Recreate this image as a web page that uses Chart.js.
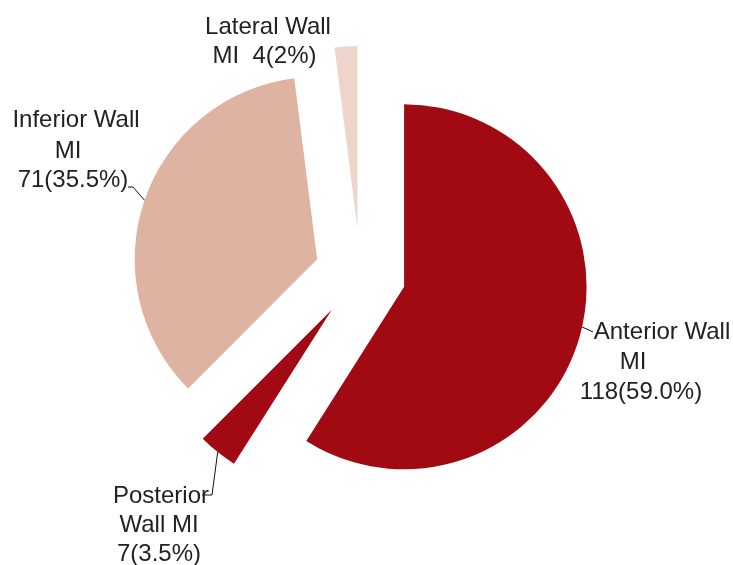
<!DOCTYPE html>
<html lang="en">
<head>
    <meta charset="UTF-8">
    <title>MI location</title>
    <script src="https://cdn.jsdelivr.net/npm/chart.js"></script>
    <style>
        html, body { margin: 0; padding: 0; background: #fff; }
        #wrap { width: 733px; height: 565px; position: relative; }
    </style>
</head>
<body>
    <div id="wrap"><canvas id="chart"></canvas></div>

    <script>
        // data
        const categories = ['Anterior Wall MI', 'Posterior Wall MI', 'Inferior Wall MI', 'Lateral Wall MI'];
        const counts = [118, 7, 71, 4];
        const percents = ['59.0%', '3.5%', '35.5%', '2%'];
        const colors = ['#a10a12', '#a10a12', '#dfb3a1', '#eed4ca'];

        // label text, split the way the picture wraps it
        const labelLines = [
            ['Anterior Wall', 'MI', `${counts[0]}(${percents[0]})`],
            ['Posterior', 'Wall MI', `${counts[1]}(${percents[1]})`],
            ['Inferior Wall', 'MI', `${counts[2]}(${percents[2]})`],
            ['Lateral Wall', `MI  ${counts[3]}(${percents[3]})`]
        ];

        const EXPLODE = 45.6; // every slice pulled out by the same distance

        // where each label sits: line centres x, baselines y, and leader path
        const labelLayout = [
            { xs: [662, 633, 641], ys: [339, 369, 399], edgeDeg: 12.7, leader: [[593, 332]] },
            { xs: [161, 159, 159], ys: [503, 532, 561], leader: [[212, 495], [202, 495]] },
            { xs: [76, 68, 73], ys: [127, 158, 187], leader: [[133, 187], [128, 187]] },
            { xs: [268, 264.5], ys: [34, 63], leader: [] }
        ];

        function sliceShift(arc) {
            const mid = (arc.startAngle + arc.endAngle) / 2;
            return { dx: Math.cos(mid) * EXPLODE, dy: Math.sin(mid) * EXPLODE, mid: mid };
        }

        // draws the arcs ourselves so each one is shifted by the same amount
        const explodePlugin = {
            id: 'explode',
            beforeDatasetDraw(chart, args) {
                const ctx = chart.ctx;
                args.meta.data.forEach(arc => {
                    const s = sliceShift(arc);
                    ctx.save();
                    ctx.translate(s.dx, s.dy);
                    arc.draw(ctx);
                    ctx.restore();
                });
                return false;
            }
        };

        const labelPlugin = {
            id: 'sliceLabels',
            afterDatasetsDraw(chart) {
                const ctx = chart.ctx;
                const arcs = chart.getDatasetMeta(0).data;
                ctx.save();
                arcs.forEach((arc, i) => {
                    const lay = labelLayout[i];
                    const s = sliceShift(arc);
                    if (lay.leader.length) {
                        const a = lay.edgeDeg !== undefined ? lay.edgeDeg * Math.PI / 180 : s.mid;
                        const x0 = arc.x + s.dx + Math.cos(a) * arc.outerRadius;
                        const y0 = arc.y + s.dy + Math.sin(a) * arc.outerRadius;
                        ctx.beginPath();
                        ctx.moveTo(x0, y0);
                        lay.leader.forEach(p => ctx.lineTo(p[0], p[1]));
                        ctx.strokeStyle = '#111';
                        ctx.lineWidth = 1;
                        ctx.stroke();
                    }
                    ctx.fillStyle = '#222';
                    ctx.font = '24px "Liberation Sans", Arial, sans-serif';
                    ctx.textAlign = 'center';
                    ctx.textBaseline = 'alphabetic';
                    labelLines[i].forEach((t, j) => ctx.fillText(t, lay.xs[j], lay.ys[j]));
                });
                ctx.restore();
            }
        };

        new Chart(document.getElementById('chart'), {
            type: 'pie',
            data: {
                labels: categories,
                datasets: [{
                    data: counts,
                    backgroundColor: colors,
                    borderWidth: 0,
                    radius: 182.5
                }]
            },
            options: {
                responsive: true,
                maintainAspectRatio: false,
                animation: false,
                layout: { padding: { left: 0, right: 12.4, top: 0, bottom: 16.8 } },
                plugins: {
                    legend: { display: false },
                    tooltip: { enabled: false }
                }
            },
            plugins: [explodePlugin, labelPlugin]
        });
    </script>
</body>
</html>
